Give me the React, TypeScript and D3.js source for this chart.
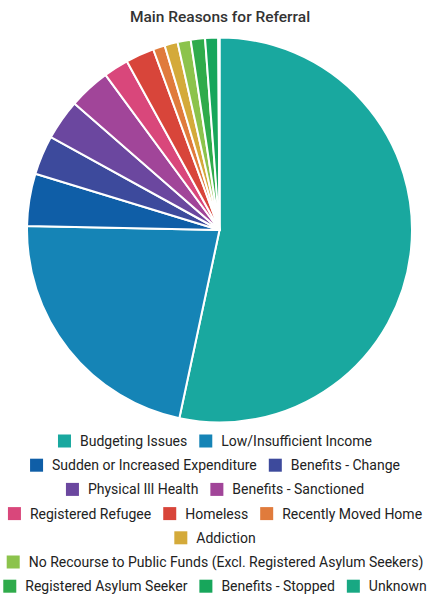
import React, { useEffect, useRef } from "react";
import * as d3 from "d3";

const categories = [
  "Budgeting Issues",
  "Low/Insufficient Income",
  "Sudden or Increased Expenditure",
  "Benefits - Change",
  "Physical Ill Health",
  "Benefits - Sanctioned",
  "Registered Refugee",
  "Homeless",
  "Recently Moved Home",
  "Addiction",
  "No Recourse to Public Funds (Excl. Registered Asylum Seekers)",
  "Registered Asylum Seeker",
  "Benefits - Stopped",
  "Unknown",
];

const values = [53.4, 22.0, 4.4, 3.3, 3.4, 3.5, 2.1, 2.4, 1.0, 1.1, 1.1, 1.2, 1.1, 0.1];

const colors = [
  "#19a89f",
  "#1584b6",
  "#0f5ea7",
  "#3d4a9c",
  "#6b479f",
  "#a14599",
  "#d9477b",
  "#d8453a",
  "#e07b3c",
  "#d4aa3a",
  "#8cc34c",
  "#2fab4b",
  "#17a65b",
  "#18a883",
];

const title = "Main Reasons for Referral";

const W = 430;
const H = 594;

export default function App() {
  const ref = useRef<SVGSVGElement>(null);

  useEffect(() => {
    const svg = d3.select(ref.current);
    svg.selectAll("*").remove();

    svg
      .append("text")
      .attr("x", 220)
      .attr("y", 22)
      .attr("text-anchor", "middle")
      .attr("font-family", "Roboto, sans-serif")
      .attr("font-size", 15.5)
      .attr("font-weight", 500)
      .attr("fill", "#333")
      .text(title);

    const cx = 219.5;
    const cy = 230;
    const r = 192.5;

    const data = categories.map((c, i) => ({ c, v: values[i], col: colors[i] }));
    const pie = d3.pie<any>().value((d) => d.v).sort(null);
    const arc = d3.arc<any>().innerRadius(0).outerRadius(r);

    const g = svg.append("g").attr("transform", `translate(${cx},${cy})`);
    g.selectAll("path")
      .data(pie(data))
      .enter()
      .append("path")
      .attr("d", arc as any)
      .attr("fill", (d: any) => d.data.col)
      .attr("stroke", "#fff")
      .attr("stroke-width", 2)
      .attr("stroke-linejoin", "round");

    // legend with greedy wrapping
    const fontSize = 14;
    const font = `${fontSize}px Roboto, sans-serif`;
    const canvas = document.createElement("canvas");
    const ctx = canvas.getContext("2d")!;
    ctx.font = font;
    const sw = 13;
    const gapText = 9;
    const itemGap = 12;
    const maxW = 428;
    const items = data.map((d) => ({ ...d, w: sw + gapText + ctx.measureText(d.c).width }));
    const rows: any[][] = [];
    let cur: any[] = [];
    let curW = 0;
    items.forEach((it) => {
      const add = cur.length ? itemGap + it.w : it.w;
      if (cur.length && curW + add > maxW) {
        rows.push(cur);
        cur = [it];
        curW = it.w;
      } else {
        cur.push(it);
        curW += add;
      }
    });
    if (cur.length) rows.push(cur);

    const legendTop = 441;
    const rowH = 24.2;
    const lg = svg.append("g");
    rows.forEach((row, ri) => {
      const total = row.reduce((s, it, i) => s + it.w + (i ? itemGap : 0), 0);
      let x = (W - total) / 2;
      const y = legendTop + ri * rowH;
      row.forEach((it) => {
        lg.append("rect")
          .attr("x", x)
          .attr("y", y - sw / 2)
          .attr("width", sw)
          .attr("height", sw)
          .attr("fill", it.col);
        lg.append("text")
          .attr("x", x + sw + gapText)
          .attr("y", y)
          .attr("dy", "0.35em")
          .attr("font-family", "Roboto, sans-serif")
          .attr("font-size", fontSize)
          .attr("fill", "#222")
          .text(it.c);
        x += it.w + itemGap;
      });
    });
  }, []);

  return (
    <svg
      ref={ref}
      width={W}
      height={H}
      style={{ position: "absolute", left: 0, top: 0, background: "#fff" }}
    />
  );
}
